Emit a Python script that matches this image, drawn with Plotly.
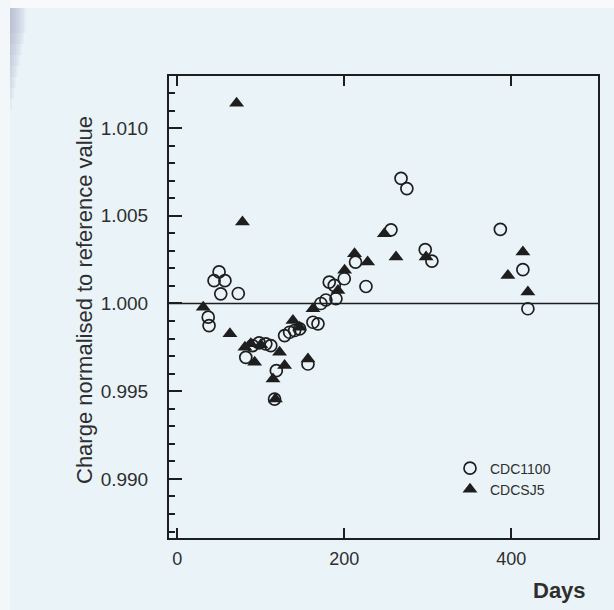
import plotly.graph_objects as go

# CDC1100 (open circles)
cdc1100_days = [37, 38, 44, 50, 57, 52, 73, 82, 90, 98, 106, 112, 118.6, 116.5,
                128.5, 134.5, 140.5, 146.5, 156.5, 162.5, 168.5, 172, 178, 190,
                182, 188, 200, 213.5, 226, 256, 268, 275, 297, 305, 387, 414, 420]
cdc1100_vals = [0.99922, 0.99874, 1.0013, 1.0018, 1.0013, 1.00055, 1.00057, 0.99693,
                0.9976, 0.99775, 0.9977, 0.9976, 0.99617, 0.99455,
                0.99817, 0.99836, 0.99846, 0.99855, 0.99655, 0.99893, 0.99884,
                1.0000, 1.0002, 1.00027, 1.00122, 1.00103, 1.00141, 1.00236,
                1.00097, 1.0042, 1.00713, 1.00655, 1.00307, 1.00242, 1.00423,
                1.00193, 0.9997]

# CDCSJ5 (filled triangles)
cdcsj5_days = [31, 63, 71, 78, 81, 88, 92.6, 100, 114.6, 117.5, 122.5, 128.5,
               138.5, 146.5, 156.5, 162.5, 192.4, 200.4, 212.3, 228, 248, 262,
               298, 396, 414, 420]
cdcsj5_vals = [0.99979, 0.99827, 1.01141, 1.00465, 0.9975, 0.9977, 0.99665, 0.99765,
               0.9957, 0.99455, 0.99722, 0.99646, 0.99903, 0.99865, 0.99683, 0.9997,
               1.00074, 1.00189, 1.00284, 1.00236, 1.00398, 1.00265, 1.00265,
               1.0016, 1.00293, 1.00065]

x_ticks = [0, 200, 400]
x_tick_labels = ["0", "200", "400"]
y_ticks = [0.990, 0.995, 1.000, 1.005, 1.010]
y_tick_labels = ["0.990", "0.995", "1.000", "1.005", "1.010"]

ink = "#1e1e1e"
txt = "#2e2e2e"
bg = "#eaf4f8"

fig = go.Figure()
fig.add_trace(go.Scatter(
    x=cdc1100_days, y=cdc1100_vals, mode="markers", name="CDC1100",
    marker=dict(symbol="circle-open", size=12, color=ink, line=dict(width=1.7, color=ink)),
))
fig.add_trace(go.Scatter(
    x=cdcsj5_days, y=cdcsj5_vals, mode="markers", name="CDCSJ5",
    marker=dict(symbol="triangle-up", size=13, color=ink, line=dict(width=0)),
))

fig.add_shape(type="line", xref="paper", yref="y", x0=0, x1=1, y0=1.0, y1=1.0,
              line=dict(color=ink, width=1.6))

# scanned-page edges: white top/left strips and a soft grey smudge at the top-left
W, H, L, T = 429.0, 462.0, 169.0, 76.0
def px2paper_x(p):
    return (p - L) / W
def px2paper_y(p):
    return (T + H - p) / H
fig.add_shape(type="rect", xref="paper", yref="paper", layer="below", line_width=0,
              x0=px2paper_x(0), x1=px2paper_x(614), y0=px2paper_y(8), y1=px2paper_y(0),
              fillcolor="#f7f9fb")
fig.add_shape(type="rect", xref="paper", yref="paper", layer="below", line_width=0,
              x0=px2paper_x(0), x1=px2paper_x(10), y0=px2paper_y(610), y1=px2paper_y(0),
              fillcolor="#f4f7f9")
for k in range(8):
    fig.add_shape(type="rect", xref="paper", yref="paper", layer="below", line_width=0,
                  x0=px2paper_x(10), x1=px2paper_x(12 + 2 * k),
                  y0=px2paper_y(110 - 11 * k), y1=px2paper_y(8),
                  fillcolor="rgba(160,160,185,0.09)")

fig.update_layout(
    width=614, height=610,
    margin=dict(l=169, r=16, t=76, b=72),
    paper_bgcolor=bg, plot_bgcolor=bg,
    font=dict(family="Liberation Sans, Arial, sans-serif", color=txt),
    showlegend=True,
    legend=dict(x=0.655, y=0.185, xanchor="left", yanchor="top",
                bgcolor="rgba(0,0,0,0)", font=dict(size=14, color=txt),
                tracegroupgap=0, itemsizing="trace"),
    xaxis=dict(range=[-10, 504], tickvals=x_ticks, ticktext=x_tick_labels,
               ticks="inside", ticklen=10, tickwidth=1.8, tickcolor=ink,
               showline=True, linecolor=ink, linewidth=2, mirror="ticks",
               showgrid=False, zeroline=False, tickfont=dict(size=18),
               ticklabelstandoff=3),
    yaxis=dict(range=[0.98663, 1.01297], tickvals=y_ticks, ticktext=y_tick_labels,
               ticks="inside", ticklen=13, tickwidth=1.8, tickcolor=ink,
               minor=dict(dtick=0.001, tick0=1.0, ticks="inside", ticklen=6,
                          tickwidth=1.5, tickcolor=ink, showgrid=False),
               showline=True, linecolor=ink, linewidth=2, mirror=True,
               showgrid=False, zeroline=False, tickfont=dict(size=19),
               ticklabelstandoff=15),
    annotations=[
        dict(text="Charge normalised to reference value", xref="paper", yref="paper",
             x=px2paper_x(84), y=px2paper_y(300), xanchor="center", yanchor="middle",
             textangle=-90, showarrow=False, font=dict(size=22, color=txt)),
        dict(text="<b>Days</b>", xref="paper", yref="paper",
             x=px2paper_x(588), y=px2paper_y(590), xanchor="right", yanchor="middle",
             showarrow=False, font=dict(size=22, color=txt)),
    ],
)

fig.write_html(
    "out.html",
    config={"displayModeBar": False},
    post_script="document.body.style.margin='0';document.body.style.padding='0';"
                "document.body.style.background='#eaf4f8';",
)
